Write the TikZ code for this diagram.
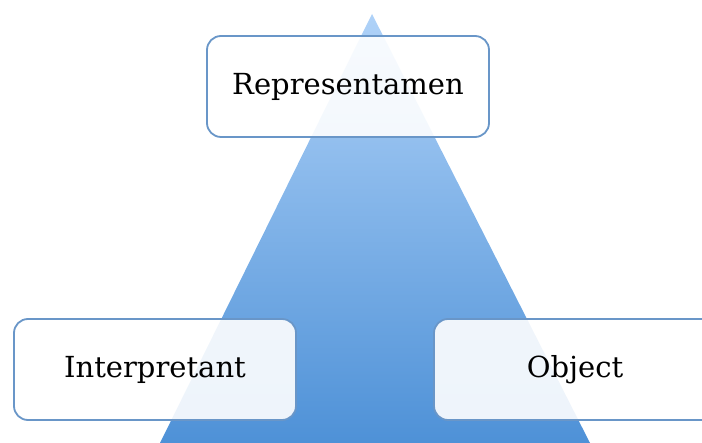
\documentclass[tikz,border=0pt]{standalone}
\usepackage{fontspec}
\setmainfont{DejaVu Serif}
\begin{document}
\begin{tikzpicture}[x=1pt,y=-1pt,
  lbox/.style={draw=boxblue, line width=1.8pt, rounded corners=14pt, fill=white, fill opacity=0.9, text opacity=1,
    minimum width=282pt, minimum height=101pt, inner sep=0pt, font=\fontsize{29}{32}\selectfont}]
\definecolor{boxblue}{RGB}{105,150,200}
\definecolor{tritop}{RGB}{175,210,248}
\definecolor{tribot}{RGB}{78,145,215}
\useasboundingbox (0,0) rectangle (702,443);
\shade[top color=tritop, bottom color=tribot] (372,14) -- (590,443) -- (160,443) -- cycle;
\node[lbox] (rep) at (348,86.5) {Representamen};
\node[lbox] (int) at (155,369.5) {Interpretant};
\node[lbox] (obj) at (575,369.5) {Object};
\end{tikzpicture}
\end{document}
